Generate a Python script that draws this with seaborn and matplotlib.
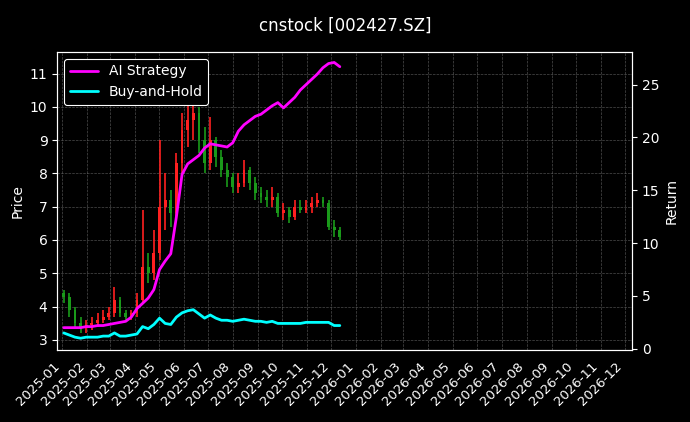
import pandas as pd
import matplotlib.pyplot as plt
import matplotlib.dates as mdates
import seaborn as sns

sns.set_theme(style="dark", context="paper")
plt.style.use("dark_background")
plt.rcParams.update({"font.size": 10, "xtick.labelsize": 9.5, "ytick.labelsize": 10,
                     "axes.labelsize": 10, "legend.fontsize": 10, "font.family": ["DejaVu Sans"]})

dates = pd.date_range("2025-01-03", periods=50, freq="7D")
opens = [4.4, 4.3, 3.9, 3.5, 3.4, 3.45, 3.5, 3.6, 3.7,
         3.8, 4.2, 3.8, 3.7, 3.8, 4.2, 5.2, 5.0, 5.6, 7.0, 7.2, 6.8, 8.3,
         9.3, 9.6, 9.8, 9.0, 8.3, 9.0, 8.5, 8.1, 7.9, 7.6, 7.7, 8.1, 7.7,
         7.4, 7.3, 7.2, 7.3, 6.8, 6.9, 6.7, 7.0, 6.9, 7.0, 7.1, 7.2, 7.1,
         6.4, 6.3]
closes = [4.3, 3.9, 3.5, 3.4, 3.45, 3.5, 3.6, 3.7, 3.8,
          4.2, 3.8, 3.7, 3.8, 4.2, 5.2, 5.0, 5.6, 7.0, 7.2, 6.8, 8.3, 9.3,
          9.6, 9.8, 9.0, 8.3, 9.0, 8.5, 8.1, 7.9, 7.6, 7.7, 8.1, 7.7, 7.4,
          7.3, 7.2, 7.3, 6.8, 6.9, 6.7, 7.0, 6.9, 7.0, 7.1, 7.2, 7.1, 6.4,
          6.3, 6.1]
highs = [4.5, 4.4, 4.0, 3.7, 3.6, 3.7, 3.8, 3.9, 4.0,
         4.6, 4.3, 3.9, 3.9, 4.4, 6.9, 5.6, 6.3, 9.0, 8.0, 7.5, 8.6, 9.8,
         11.2, 10.4, 10.0, 9.4, 9.7, 9.1, 8.7, 8.3, 8.0, 8.0, 8.4, 8.2, 7.9,
         7.6, 7.5, 7.6, 7.4, 7.1, 7.0, 7.2, 7.2, 7.2, 7.3, 7.4, 7.3, 7.2,
         6.6, 6.4]
lows = [4.1, 3.7, 3.4, 3.2, 3.2, 3.3, 3.4, 3.5, 3.6,
        3.7, 3.7, 3.6, 3.6, 3.7, 4.1, 4.7, 4.8, 5.4, 6.3, 6.4, 6.6, 8.0,
        8.8, 9.0, 8.6, 8.0, 8.1, 8.2, 7.9, 7.6, 7.4, 7.4, 7.6, 7.5, 7.2,
        7.1, 7.0, 7.0, 6.7, 6.6, 6.5, 6.6, 6.8, 6.8, 6.8, 7.0, 7.0, 6.3,
        6.1, 6.0]
ai_strategy = [2.0, 2.0, 2.0, 2.0, 2.1, 2.1, 2.2, 2.2, 2.3,
               2.4, 2.5, 2.6, 3.0, 3.8, 4.3, 4.8, 5.6, 7.5, 8.3, 9.0, 12.5, 16.5,
               17.5, 17.9, 18.3, 19.0, 19.4, 19.3, 19.2, 19.1, 19.5, 20.6, 21.2, 21.6, 22.0,
               22.2, 22.6, 23.0, 23.3, 22.8, 23.3, 23.8, 24.5, 25.0, 25.5, 26.0, 26.6, 27.0,
               27.1, 26.7]
buy_hold = [1.5, 1.3, 1.1, 1.0, 1.1, 1.1, 1.1, 1.2, 1.2,
            1.5, 1.2, 1.2, 1.3, 1.4, 2.1, 1.9, 2.3, 2.9, 2.4, 2.3, 3.0, 3.4,
            3.6, 3.7, 3.3, 2.9, 3.2, 2.9, 2.7, 2.7, 2.6, 2.7, 2.8, 2.7, 2.6,
            2.6, 2.5, 2.6, 2.4, 2.4, 2.4, 2.4, 2.4, 2.5, 2.5, 2.5, 2.5, 2.5,
            2.2, 2.2]

df = pd.DataFrame({"date": dates, "open": opens, "close": closes, "high": highs,
                   "low": lows, "ai": ai_strategy, "bh": buy_hold})

fig = plt.figure(figsize=(6.9, 4.22), dpi=100, facecolor="black")
ax = fig.add_axes([0.083, 0.171, 0.833, 0.706])
ax.set_facecolor("black")

up = df["close"] >= df["open"]
colors = ["#ff2020" if u else "#1a9a1a" for u in up]
ax.vlines(df["date"], df["low"], df["high"], colors=colors, linewidth=1.2)
ax.bar(df["date"], (df["close"] - df["open"]).abs().clip(lower=0.05),
       bottom=df[["open", "close"]].min(axis=1), width=3.5, color=colors,
       edgecolor=colors, linewidth=0)
ax.set_ylabel("Price")
ax.set_ylim(2.7, 11.65)
ax.grid(True, color="gray", linestyle="--", linewidth=0.5, alpha=0.6)

ax2 = ax.twinx()
sns.lineplot(data=df, x="date", y="ai", ax=ax2, color="magenta", linewidth=2, label="AI Strategy")
sns.lineplot(data=df, x="date", y="bh", ax=ax2, color="cyan", linewidth=2, label="Buy-and-Hold")
ax2.set_ylabel("Return")
ax2.set_xlabel("")
ax2.set_ylim(-0.1, 28.1)
ax2.set_yticks([0, 5, 10, 15, 20, 25])
ax2.legend(loc="upper left", facecolor="black", edgecolor="white", framealpha=1)

ax.set_xlim(pd.Timestamp("2024-12-26"), pd.Timestamp("2026-12-10"))
ax.xaxis.set_major_locator(mdates.MonthLocator())
ax.xaxis.set_major_formatter(mdates.DateFormatter("%Y-%m"))
plt.setp(ax.get_xticklabels(), rotation=45, ha="right")
for a in (ax, ax2):
    a.tick_params(length=3.5, width=0.8, colors="white")
    for s in a.spines.values():
        s.set_color("white")
        s.set_linewidth(0.8)

fig.suptitle("cnstock [002427.SZ]", y=0.96, fontsize=12)
fig.savefig("out.png", facecolor="black")
